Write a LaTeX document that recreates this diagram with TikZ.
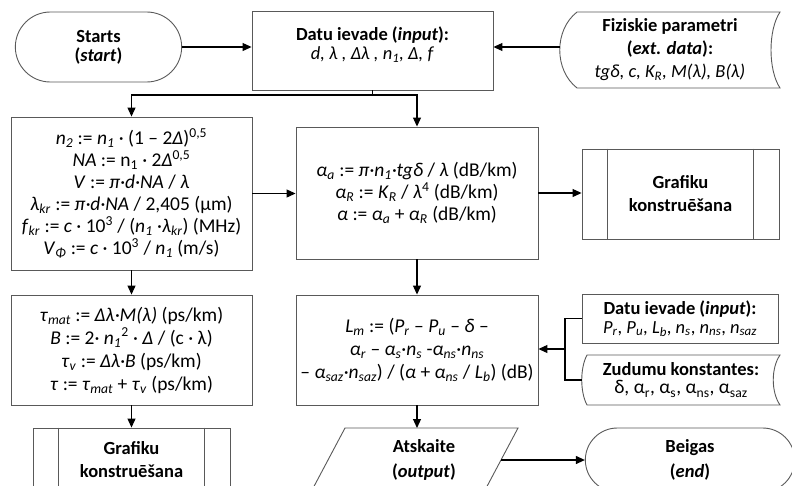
\documentclass[tikz,border=0pt]{standalone}
\usepackage{fontspec}
\setmainfont{Carlito}
\usepackage{tikz}
\usetikzlibrary{arrows.meta,shapes.misc}
\newcommand{\vsb}[2]{\textit{#1}\textsubscript{\textit{#2}}}
\newcommand{\sps}[1]{\textsuperscript{#1}}
\tikzset{
    proc-box/.style = {draw=black!65, line width=0.9pt, rectangle, align=center, inner sep=2pt, font=\fontsize{19.5}{22}\selectfont},
    term-box/.style = {draw=black!65, line width=0.9pt, rounded rectangle, align=center, font=\fontsize{18.5}{19}\selectfont\bfseries},
    title-box/.style = {proc-box, font=\fontsize{18.5}{19}\selectfont},
    plain-text/.style = {align=center, inner sep=0pt, font=\fontsize{18.5}{23}\selectfont\bfseries},
    shape-line/.style = {draw=black!65, line width=0.9pt},
    link/.style = {line width=1.1pt},
    flow/.style = {line width=1.1pt, -{Triangle[length=9pt,width=8pt]}},
}

\begin{document}
\begin{tikzpicture}[x=1pt, y=-1pt]
\clip (0,0) rectangle (792,485);

\node [term-box, minimum width=173pt, minimum height=70pt] (starts) at (98.5,47) {Starts\\(\textit{start})};
\node [title-box, text depth=14pt, minimum width=241pt, minimum height=79pt] (datu) at (372.5,50.5) {\textbf{Datu ievade (\textit{input}):}\\\textit{d, λ , Δλ , n\textsubscript{1}, Δ, f}};
\node [plain-text, minimum width=220pt, minimum height=76pt] (fiz) at (670,50) {Fiziskie parametri\\(\textit{ext. data}):\\\mdseries\textit{tgδ, c, K\textsubscript{R}, M(λ), B(λ)}};
\draw [shape-line] (577,12) -- (780,12) .. controls (768,30) and (768,70) .. (780,88) -- (577,88) .. controls (554,70) and (554,30) .. (577,12) -- cycle;

\node [proc-box, minimum width=241pt, minimum height=153pt] (form) at (131.5,193.5) {\vsb{n}{2} := \vsb{n}{1} · (1 – 2\textit{Δ})\sps{0,5}\\
\textit{NA} := n\textsubscript{1} · 2\textit{Δ}\sps{0,5}\\
\textit{V} := \textit{π·d·NA} / \textit{λ}\\
\vsb{λ}{kr} := \textit{π·d·NA} / 2,405 (µm)\\
\vsb{f}{kr} := \textit{c} · 10\sps{3} / (\vsb{n}{1} ·\vsb{λ}{kr}) (MHz)\\
\vsb{V}{Φ} := \textit{c} · 10\sps{3} / \vsb{n}{1} (m/s)};
\node [proc-box, minimum width=242pt, minimum height=132pt] (alpha) at (417,193) {\vsb{α}{a} := \textit{π·}\vsb{n}{1}\textit{·tgδ} / \textit{λ} (dB/km)\\
\vsb{α}{R} := \vsb{K}{R} / \textit{λ}\sps{4} (dB/km)\\
\textit{α} := \vsb{α}{a} + \vsb{α}{R} (dB/km)};
\node [proc-box, font=\fontsize{18.5}{23}\selectfont\bfseries, minimum width=197pt, minimum height=90pt] (graf1) at (680.5,194) {Grafiku\\konstruēšana};

\node [proc-box, font=\fontsize{19.5}{23}\selectfont, minimum width=241pt, minimum height=110pt] (tau) at (131.5,350) {\vsb{τ}{mat} := \textit{Δλ·M(λ)} (ps/km)\\
\textit{B} := 2· \vsb{n}{1}\sps{2} · \textit{Δ} / (c · λ)\\
\vsb{τ}{v} := \textit{Δλ·B} (ps/km)\\
\textit{τ} := \vsb{τ}{mat} + \vsb{τ}{v} (ps/km)};
\node [proc-box, font=\fontsize{19.5}{23}\selectfont, minimum width=242pt, minimum height=110pt] (lm) at (417,350) {\vsb{L}{m} := (\vsb{P}{r} – \vsb{P}{u} – \textit{δ} –\\
\vsb{α}{r} – \vsb{α}{s}·\vsb{n}{s} -\vsb{α}{ns}·\vsb{n}{ns}\\
– \vsb{α}{saz}·\vsb{n}{saz}) / (\textit{α} + \vsb{α}{ns} / \vsb{L}{b}) (dB)};
\node [title-box, minimum width=196pt, minimum height=49pt] (din) at (680,318.5) {\textbf{Datu ievade (\textit{input}):}\\\vsb{P}{r}, \vsb{P}{u}, \vsb{L}{b}, \vsb{n}{s}, \vsb{n}{ns}, \vsb{n}{saz}};
\node [plain-text, font=\fontsize{18.5}{18}\selectfont, minimum width=198pt, minimum height=50pt] (zud) at (681,380) {\textbf{Zudumu konstantes:}\\\fontsize{19.5}{18}\selectfont δ, α\textsubscript{r}, α\textsubscript{s}, α\textsubscript{ns}, α\textsubscript{saz}};
\draw [shape-line] (587,355) -- (780,355) .. controls (771,368) and (771,392) .. (780,405) -- (587,405) .. controls (580,392) and (580,368) .. (587,355) -- cycle;

\node [proc-box, font=\fontsize{18.5}{23}\selectfont\bfseries, minimum width=197pt, minimum height=64pt] (graf2) at (131.5,460) {Grafiku\\konstruēšana};
\node [plain-text, font=\fontsize{18.5}{25}\selectfont\bfseries] (out) at (424,460) {Atskaite\\(\textit{output})};
\draw [shape-line] (345,428) -- (518,428) -- (484,492) -- (311,492) -- cycle;
\coordinate (out-n) at (417,428);
\coordinate (out-r) at (501,460);
\node [term-box, font=\fontsize{18.5}{25}\selectfont\bfseries, minimum width=216pt, minimum height=64pt] (end) at (690,460) {Beigas\\(\textit{end})};

\foreach \g in {graf1,graf2} {
    \draw [shape-line] ([xshift=26pt]\g.north west) -- ([xshift=26pt]\g.south west);
    \draw [shape-line] ([xshift=-26pt]\g.north east) -- ([xshift=-26pt]\g.south east);
}

\coordinate (split) at (372.5,95);
\coordinate (jn) at (565,349);
\draw [flow] (starts.east) -- (starts.east -| datu.west);
\draw [flow] (fiz.west |- starts.east) -- (datu.east |- starts.east);
\draw [link] (datu.south) -- (split);
\draw [flow] (split) -| (form.north);
\draw [flow] (split) -| (alpha.north);
\draw [flow] (form.east) -- (form.east -| alpha.west);
\draw [flow] (alpha.east) -- (alpha.east -| graf1.west);
\draw [flow] (form.south) -- (tau.north);
\draw [flow] (alpha.south) -- (lm.north);
\draw [flow] (tau.south) -- (graf2.north);
\draw [flow] (lm.south) -- (out-n);
\draw [flow] (out-r) -- (out-r -| end.west);
\draw [link] (din.west) -| (jn) |- (zud.west);
\draw [flow] (jn) -- (jn -| lm.east);
\end{tikzpicture}
\end{document}
